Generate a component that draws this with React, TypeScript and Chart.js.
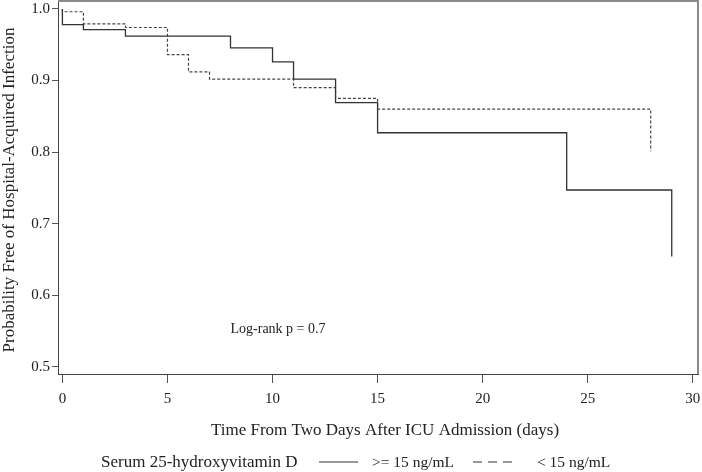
import React, { useEffect, useRef } from "react";
import { Chart, registerables } from "chart.js";

Chart.register(...registerables);

// Kaplan-Meier step data (time in days, survival probability)
const highTimes = [0, 0, 1, 3, 8, 10, 11, 13, 15, 24, 29];
const highSurv = [1.0, 0.978, 0.971, 0.962, 0.9455, 0.926, 0.902, 0.869, 0.827, 0.747, 0.654];
const lowTimes = [0, 0, 1, 3, 5, 6, 7, 11, 13, 15, 28];
const lowSurv = [1.0, 0.996, 0.979, 0.974, 0.936, 0.912, 0.902, 0.89, 0.875, 0.86, 0.801];

const xTicks = [0, 5, 10, 15, 20, 25, 30];
const yTicks = [0.5, 0.6, 0.7, 0.8, 0.9, 1.0];

const seriesLabels = [">= 15 ng/mL", "< 15 ng/mL"];
const legendTitle = "Serum 25-hydroxyvitamin D";
const xTitle = "Time From Two Days After ICU Admission (days)";
const yTitle = "Probability Free of Hospital-Acquired Infection";
const annotationText = "Log-rank p = 0.7";
const annotationX = 8;
const annotationY = 0.553;

const FONT = "'Liberation Serif', 'Times New Roman', serif";

export default function App() {
  const canvasRef = useRef<HTMLCanvasElement | null>(null);

  useEffect(() => {
    const canvas = canvasRef.current;
    if (!canvas) return;

    const framePlugin = {
      id: "framePlugin",
      afterDraw(chart: any) {
        const { ctx, chartArea } = chart;
        const xs = chart.scales.x;
        const ys = chart.scales.y;
        ctx.save();
        // top and right frame
        ctx.strokeStyle = "#8a8a8a";
        ctx.lineWidth = 2;
        ctx.beginPath();
        ctx.moveTo(chartArea.left, chartArea.top);
        ctx.lineTo(chartArea.right, chartArea.top);
        ctx.lineTo(chartArea.right, chartArea.bottom);
        ctx.stroke();

        ctx.fillStyle = "#222";
        ctx.textBaseline = "middle";

        // axis titles
        ctx.font = `17px ${FONT}`;
        ctx.textAlign = "center";
        ctx.fillText(xTitle, 385, 431);
        ctx.save();
        ctx.translate(9.5, 190);
        ctx.rotate(-Math.PI / 2);
        ctx.fillText(yTitle, 0, 0);
        ctx.restore();

        // annotation
        ctx.textAlign = "left";
        ctx.font = `14px ${FONT}`;
        ctx.fillText(annotationText, xs.getPixelForValue(annotationX), ys.getPixelForValue(annotationY));

        // legend
        const ly = 463;
        ctx.font = `17px ${FONT}`;
        ctx.fillText(legendTitle, 101, ly);
        ctx.strokeStyle = "#333";
        ctx.lineWidth = 1.2;
        ctx.beginPath();
        ctx.moveTo(319, ly - 1);
        ctx.lineTo(358, ly - 1);
        ctx.stroke();
        ctx.font = `15.5px ${FONT}`;
        ctx.fillText(seriesLabels[0], 372, ly);
        ctx.setLineDash([9, 6]);
        ctx.beginPath();
        ctx.moveTo(473, ly - 1);
        ctx.lineTo(512, ly - 1);
        ctx.stroke();
        ctx.setLineDash([]);
        ctx.fillText(seriesLabels[1], 537, ly);
        ctx.restore();
      },
    };

    const chart = new Chart(canvas, {
      type: "line",
      data: {
        datasets: [
          {
            label: seriesLabels[0],
            data: highTimes.map((t, i) => ({ x: t, y: highSurv[i] })),
            stepped: "before",
            borderColor: "#333",
            borderWidth: 1.3,
            pointRadius: 0,
            fill: false,
          },
          {
            label: seriesLabels[1],
            data: lowTimes.map((t, i) => ({ x: t, y: lowSurv[i] })),
            stepped: "before",
            borderColor: "#444",
            borderWidth: 1.2,
            borderDash: [3, 2],
            pointRadius: 0,
            fill: false,
          },
        ],
      },
      options: {
        responsive: false,
        animation: false,
        devicePixelRatio: 1,
        layout: { padding: { top: 1, right: 4, left: 0, bottom: 0 } },
        plugins: {
          legend: { display: false },
          tooltip: { enabled: false },
        },
        scales: {
          x: {
            type: "linear",
            min: -0.21,
            max: 30.25,
            afterBuildTicks: (scale: any) => {
              scale.ticks = xTicks.map((v) => ({ value: v }));
            },
            afterFit: (scale: any) => {
              scale.height = 98;
              scale.paddingLeft = 0;
              scale.paddingRight = 0;
            },
            ticks: {
              font: { family: FONT, size: 15 },
              color: "#222",
              padding: 7,
              maxRotation: 0,
              autoSkip: false,
            },
            grid: {
              drawOnChartArea: false,
              drawTicks: true,
              tickLength: 9,
              color: "#555",
            },
            border: { display: true, color: "#444", width: 1 },
            title: { display: false },
          },
          y: {
            type: "linear",
            min: 0.49,
            max: 1.011,
            afterBuildTicks: (scale: any) => {
              scale.ticks = yTicks.map((v) => ({ value: v }));
            },
            afterFit: (scale: any) => {
              scale.width = 58;
              scale.paddingTop = 0;
              scale.paddingBottom = 0;
            },
            ticks: {
              font: { family: FONT, size: 15 },
              color: "#222",
              padding: 2,
              callback: (v: any) => Number(v).toFixed(1),
            },
            grid: {
              drawOnChartArea: false,
              drawTicks: true,
              tickLength: 6,
              color: "#555",
            },
            border: { display: true, color: "#444", width: 1 },
            title: { display: false },
          },
        },
      },
      plugins: [framePlugin],
    });

    return () => {
      chart.destroy();
    };
  }, []);

  return (
    <div style={{ position: "absolute", left: 0, top: 0, width: 702, height: 472, background: "#fff" }}>
      <canvas ref={canvasRef} width={702} height={472} style={{ width: 702, height: 472 }} />
    </div>
  );
}
